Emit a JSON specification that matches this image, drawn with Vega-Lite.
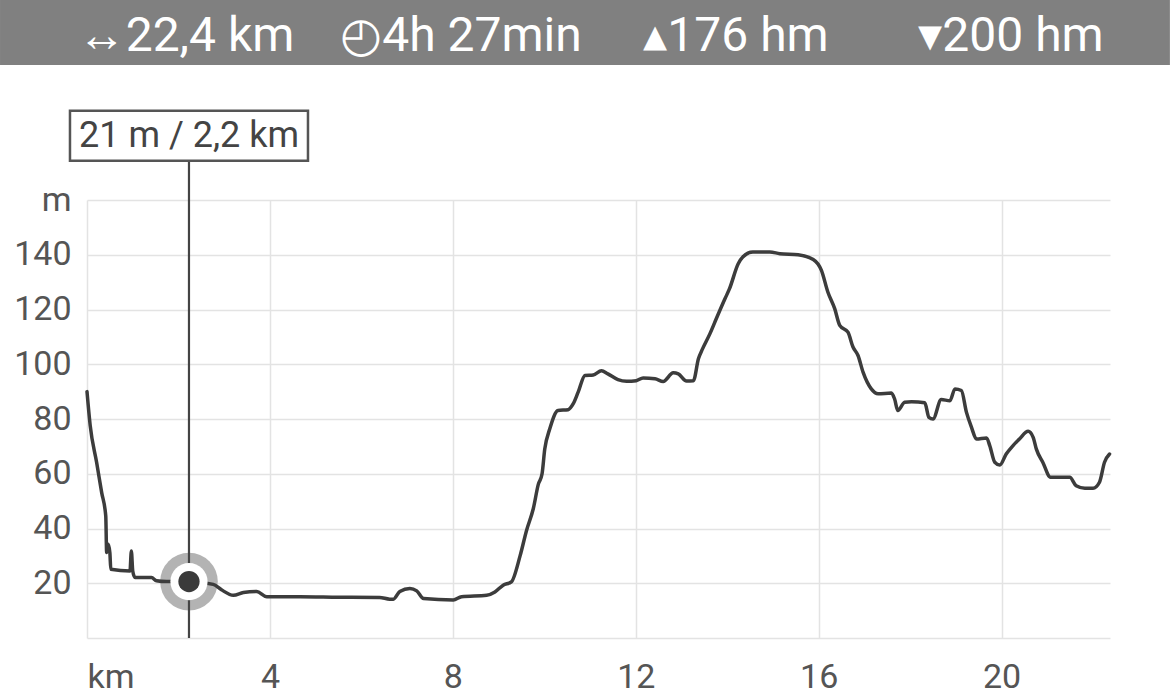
{
  "$schema": "https://vega.github.io/schema/vega-lite/v6.json",
  "width": 1023,
  "height": 438,
  "autosize": "none",
  "padding": {"left": 87, "top": 200, "right": 60, "bottom": 60},
  "background": "white",
  "config": {
    "view": {"stroke": null},
    "font": "Roboto",
    "axis": {
      "labelFont": "Roboto",
      "labelFontSize": 34,
      "labelColor": "#555555",
      "gridColor": "#e3e3e3",
      "gridWidth": 1.5,
      "domain": false,
      "ticks": false,
      "title": null
    }
  },
  "datasets": {
    "elev": [
      {"km": 0.00, "m": 90.0}, {"km": 0.07, "m": 77.6}, {"km": 0.21, "m": 64.2}, {"km": 0.32, "m": 53.2},
      {"km": 0.41, "m": 44.6}, {"km": 0.43, "m": 31.2}, {"km": 0.46, "m": 34.3}, {"km": 0.50, "m": 31.2},
      {"km": 0.52, "m": 25.1}, {"km": 0.94, "m": 24.5}, {"km": 0.97, "m": 31.8}, {"km": 1.00, "m": 24.5},
      {"km": 1.05, "m": 22.1}, {"km": 1.41, "m": 22.1}, {"km": 1.52, "m": 20.9}, {"km": 1.74, "m": 20.6},
      {"km": 2.23, "m": 20.6}, {"km": 2.76, "m": 19.6}, {"km": 2.94, "m": 17.6}, {"km": 3.20, "m": 15.6},
      {"km": 3.42, "m": 16.6}, {"km": 3.71, "m": 17.0}, {"km": 3.93, "m": 15.1}, {"km": 4.66, "m": 15.1},
      {"km": 5.50, "m": 14.9}, {"km": 6.40, "m": 14.8}, {"km": 6.62, "m": 14.2}, {"km": 6.70, "m": 14.2},
      {"km": 6.84, "m": 17.0}, {"km": 7.06, "m": 18.1}, {"km": 7.21, "m": 17.2}, {"km": 7.36, "m": 14.4},
      {"km": 8.01, "m": 13.9}, {"km": 8.19, "m": 15.1}, {"km": 8.74, "m": 15.6}, {"km": 8.92, "m": 16.8},
      {"km": 9.10, "m": 19.3}, {"km": 9.28, "m": 20.5}, {"km": 9.47, "m": 30.0}, {"km": 9.61, "m": 39.2},
      {"km": 9.76, "m": 47.3}, {"km": 9.87, "m": 56.2}, {"km": 9.95, "m": 59.9}, {"km": 10.01, "m": 69.0},
      {"km": 10.12, "m": 76.4}, {"km": 10.30, "m": 83.1}, {"km": 10.52, "m": 83.4}, {"km": 10.63, "m": 85.5},
      {"km": 10.74, "m": 89.8}, {"km": 10.89, "m": 95.9}, {"km": 11.07, "m": 96.1}, {"km": 11.25, "m": 97.6},
      {"km": 11.39, "m": 96.5}, {"km": 11.61, "m": 94.4}, {"km": 11.80, "m": 93.8}, {"km": 12.01, "m": 94.0},
      {"km": 12.16, "m": 95.0}, {"km": 12.42, "m": 94.7}, {"km": 12.60, "m": 93.7}, {"km": 12.82, "m": 96.9},
      {"km": 12.93, "m": 96.5}, {"km": 13.11, "m": 93.9}, {"km": 13.26, "m": 94.0}, {"km": 13.37, "m": 102.0},
      {"km": 13.46, "m": 105.6}, {"km": 13.62, "m": 111.1}, {"km": 13.76, "m": 116.6}, {"km": 13.95, "m": 123.9},
      {"km": 14.05, "m": 127.6}, {"km": 14.24, "m": 136.7}, {"km": 14.34, "m": 139.2}, {"km": 14.56, "m": 141.0},
      {"km": 14.93, "m": 141.0}, {"km": 15.15, "m": 140.4}, {"km": 15.55, "m": 140.0}, {"km": 15.88, "m": 138.3},
      {"km": 16.06, "m": 134.3}, {"km": 16.20, "m": 126.4}, {"km": 16.35, "m": 120.3}, {"km": 16.46, "m": 114.2},
      {"km": 16.64, "m": 111.7}, {"km": 16.75, "m": 106.3}, {"km": 16.86, "m": 103.2}, {"km": 16.97, "m": 97.1},
      {"km": 17.15, "m": 91.0}, {"km": 17.30, "m": 89.2}, {"km": 17.59, "m": 89.5}, {"km": 17.66, "m": 87.3},
      {"km": 17.73, "m": 83.1}, {"km": 17.88, "m": 86.1}, {"km": 18.03, "m": 86.3}, {"km": 18.32, "m": 85.9},
      {"km": 18.41, "m": 80.6}, {"km": 18.50, "m": 80.0}, {"km": 18.68, "m": 87.1}, {"km": 18.87, "m": 86.7},
      {"km": 18.98, "m": 91.0}, {"km": 19.12, "m": 90.4}, {"km": 19.23, "m": 82.5}, {"km": 19.34, "m": 77.0},
      {"km": 19.45, "m": 72.7}, {"km": 19.67, "m": 73.1}, {"km": 19.74, "m": 70.3}, {"km": 19.85, "m": 64.2},
      {"km": 19.96, "m": 63.2}, {"km": 20.10, "m": 67.2}, {"km": 20.25, "m": 70.3}, {"km": 20.39, "m": 72.7},
      {"km": 20.58, "m": 75.5}, {"km": 20.69, "m": 73.3}, {"km": 20.76, "m": 69.0}, {"km": 20.90, "m": 64.2},
      {"km": 21.07, "m": 58.7}, {"km": 21.49, "m": 58.7}, {"km": 21.63, "m": 55.6}, {"km": 21.82, "m": 54.7},
      {"km": 22.00, "m": 54.7}, {"km": 22.14, "m": 56.9}, {"km": 22.25, "m": 64.2}, {"km": 22.36, "m": 67.2}
    ],
    "marker": [{"km": 2.23, "m": 20.6, "label": "21 m / 2,2 km"}],
    "stats": [
      {"stat": "↔22,4 km"},
      {"stat": "◴4h 27min"},
      {"stat": "▴176 hm"},
      {"stat": "▾200 hm"}
    ]
  },
  "layer": [
    {
      "encoding": {
        "x": {
          "field": "km", "type": "quantitative",
          "scale": {"domain": [0, 22.37], "nice": false, "zero": false},
          "axis": {"values": [0, 4, 8, 12, 16, 20], "labelExpr": "datum.value == 0 ? 'km' : datum.label", "labelPadding": 22, "title": null}
        },
        "y": {
          "field": "m", "type": "quantitative",
          "scale": {"domain": [0, 160], "nice": false},
          "axis": {"values": [0, 20, 40, 60, 80, 100, 120, 140, 160], "labelExpr": "datum.value == 160 ? 'm' : datum.value == 0 ? '' : datum.label", "labelPadding": 16, "title": null}
        }
      },
      "layer": [
        {
          "data": {"name": "marker"},
          "mark": {"type": "rect", "fill": "#808080", "opacity": 1, "clip": false},
          "encoding": {
            "x": {"datum": -1.902, "type": "quantitative"},
            "x2": {"datum": 23.68},
            "y": {"datum": 209.3, "type": "quantitative"},
            "y2": {"datum": 233.1}
          }
        },
        {
          "data": {"name": "marker"},
          "mark": {"type": "point", "shape": "circle", "filled": true, "color": "#b3b3b3", "opacity": 1, "size": 3318}
        },
        {
          "data": {"name": "elev"},
          "mark": {"type": "line", "color": "#3c3c3c", "strokeWidth": 3.5, "interpolate": "monotone", "strokeJoin": "round", "strokeCap": "round"}
        },
        {
          "data": {"name": "marker"},
          "mark": {"type": "rule", "color": "#444444", "strokeWidth": 2.2, "clip": false},
          "encoding": {
            "y": {"datum": 0},
            "y2": {"datum": 174.2}
          }
        },
        {
          "data": {"name": "marker"},
          "mark": {"type": "point", "shape": "M-1,-0.21L1,-0.21L1,0.21L-1,0.21Z", "filled": true, "fill": "white", "stroke": "#555555", "strokeWidth": 2.5, "opacity": 1, "size": 56644, "clip": false},
          "encoding": {"y": {"datum": 183.5}}
        },
        {
          "data": {"name": "marker"},
          "mark": {"type": "text", "font": "Roboto", "fontSize": 36, "color": "#444444", "baseline": "middle", "align": "center", "clip": false},
          "encoding": {"y": {"datum": 183.5}, "text": {"field": "label"}}
        },
        {
          "data": {"name": "marker"},
          "mark": {"type": "point", "shape": "circle", "filled": true, "color": "white", "opacity": 1, "size": 1385}
        },
        {
          "data": {"name": "marker"},
          "mark": {"type": "point", "shape": "circle", "filled": true, "color": "#3a3a3a", "opacity": 1, "size": 452}
        }
      ]
    },
    {
      "data": {"name": "stats"},
      "mark": {"type": "text", "font": "Roboto", "fontSize": 48, "color": "white", "baseline": "alphabetic", "align": "center", "clip": false},
      "encoding": {
        "x": {"field": "stat", "type": "nominal", "sort": null, "scale": {"type": "point", "padding": 0.36}, "axis": null},
        "y": {"datum": 214.6, "scale": {"domain": [0, 160], "nice": false}},
        "text": {"field": "stat"}
      }
    }
  ],
  "resolve": {"scale": {"x": "independent"}}
}
